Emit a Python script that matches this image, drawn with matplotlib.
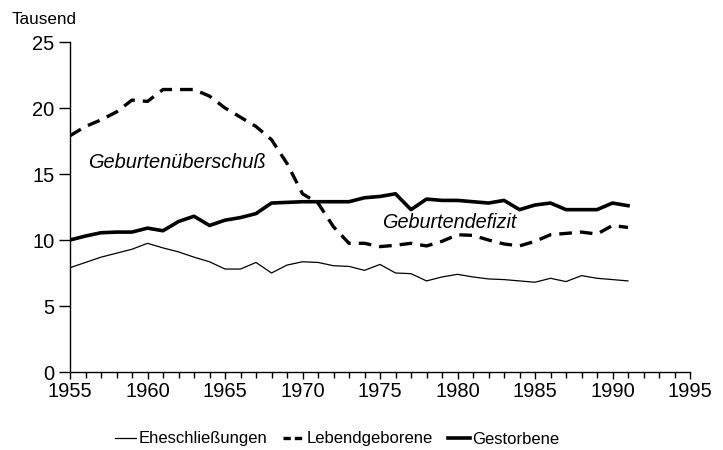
import matplotlib
matplotlib.use("Agg")
import matplotlib.pyplot as plt
from matplotlib.lines import Line2D

plt.rcParams['font.family'] = ['Liberation Sans', 'DejaVu Sans']

years = list(range(1955, 1992))
eheschliessungen = [7.9, 8.3, 8.7, 9.0, 9.3, 9.75, 9.4, 9.1, 8.7, 8.35, 7.8, 7.8, 8.3, 7.5, 8.1, 8.35,
                    8.3, 8.05, 8.0, 7.7, 8.15, 7.5, 7.45, 6.9, 7.2, 7.4, 7.2, 7.05, 7.0, 6.9, 6.8,
                    7.1, 6.85, 7.3, 7.1, 7.0, 6.9]
lebendgeborene = [17.9, 18.6, 19.1, 19.7, 20.6, 20.5, 21.4, 21.4, 21.4, 20.9, 20.0, 19.3, 18.6, 17.6,
                  15.8, 13.5, 12.8, 11.0, 9.75, 9.75, 9.5, 9.6, 9.75, 9.55, 9.9, 10.4, 10.35, 10.0,
                  9.7, 9.55, 9.9, 10.4, 10.5, 10.6, 10.45, 11.1, 10.95]
gestorbene = [10.0, 10.3, 10.55, 10.6, 10.6, 10.9, 10.7, 11.4, 11.8, 11.1, 11.5, 11.7, 12.0, 12.8,
              12.85, 12.9, 12.9, 12.9, 12.9, 13.2, 13.3, 13.5, 12.3, 13.1, 13.0, 13.0, 12.9, 12.8,
              13.0, 12.3, 12.65, 12.8, 12.3, 12.3, 12.3, 12.8, 12.6]
x_ticks_major = [1955, 1960, 1965, 1970, 1975, 1980, 1985, 1990, 1995]
y_ticks = [0, 5, 10, 15, 20, 25]
series_labels = ['Eheschließungen', 'Lebendgeborene', 'Gestorbene']

fig = plt.figure(figsize=(7.23, 4.5), dpi=100)
ax = fig.add_axes([70/723, 1-372/450, 620/723, 330/450])

ax.plot(years, eheschliessungen, color='black', lw=0.9)
ax.plot(years, lebendgeborene, color='black', lw=2.4, dashes=(3.8, 2.4))
ax.plot(years, gestorbene, color='black', lw=2.6)

ax.set_xlim(1955, 1995)
ax.set_ylim(0, 25)
ax.spines['top'].set_visible(False)
ax.spines['right'].set_visible(False)
ax.spines['left'].set_linewidth(1.0)
ax.spines['bottom'].set_linewidth(1.0)
ax.set_xticks(x_ticks_major)
ax.set_xticks(list(range(1955, 1996)), minor=True)
ax.set_yticks(y_ticks)
ax.tick_params(axis='x', which='major', direction='out', length=5, width=1, labelsize=14.5, pad=2)
ax.tick_params(axis='x', which='minor', direction='out', length=4, width=1)
ax.tick_params(axis='y', direction='out', length=8, width=1, labelsize=14.5, pad=3)

fig.text(12/723, 1-20/450, 'Tausend', fontsize=12.3, va='center', ha='left')
ax.text(1956.15, 15.45, 'Geburtenüberschuß', fontstyle='italic', fontsize=14.4, va='baseline', ha='left')
ax.text(1975.15, 10.89, 'Geburtendefizit', fontstyle='italic', fontsize=14.3, va='baseline', ha='left')

handles = [Line2D([], [], color='black', lw=0.9),
           Line2D([], [], color='black', lw=2.4, dashes=(2.2, 1.2)),
           Line2D([], [], color='black', lw=2.6)]
fig.legend(handles, series_labels, loc='center', bbox_to_anchor=(337/723, 1-439/450), ncol=3,
           frameon=False, fontsize=12, handlelength=1.3, handletextpad=0.15, columnspacing=0.9)

fig.savefig('out.png', dpi=100)
